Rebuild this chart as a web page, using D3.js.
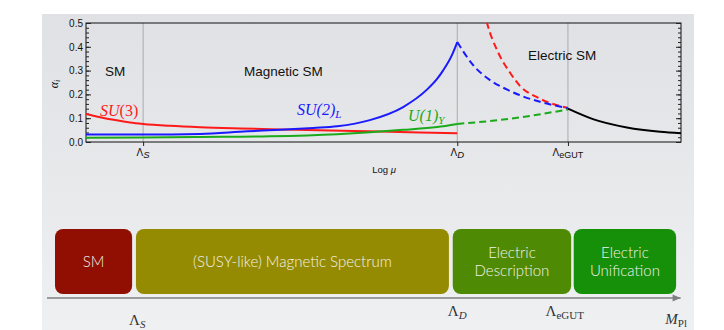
<!DOCTYPE html>
<html>
<head>
<meta charset="utf-8">
<script src="https://cdn.jsdelivr.net/npm/d3@7"></script>
<style>
  body { margin: 0; background: #fff; }
  svg { display: block; }
</style>
</head>
<body>
<svg id="chart" width="724" height="330"></svg>
<script>
// Running couplings alpha_i against log(mu), in units of the plotted log-scale (0..100)
const scaleNames = ["ΛS", "ΛD", "ΛeGUT"];
const scalePositions = [9.6, 62.4, 81.0];

const su3Solid = [[0,0.118],[2.4,0.104],[4.9,0.092],[7.4,0.082],[9.6,0.076],[14.1,0.068],[19.2,0.062],[25.9,0.057],[32.6,0.053],[41.0,0.048],[49.4,0.044],[56.1,0.040],[62.4,0.037]];
const su2Solid = [[0,0.032],[9.6,0.031],[19.2,0.034],[27.1,0.045],[32.6,0.051],[38.2,0.059],[42.2,0.066],[47.7,0.092],[53.3,0.147],[57.3,0.22],[59.0,0.265],[60.0,0.30],[61.5,0.365],[62.4,0.42]];
const u1Solid  = [[0,0.018],[9.6,0.019],[19.2,0.021],[30.9,0.024],[42.2,0.033],[47.7,0.041],[53.3,0.051],[59.0,0.063],[62.4,0.076]];

const su3Dashed = [[66.5,0.595],[67.4,0.5],[69.2,0.38],[71.3,0.29],[72.9,0.237],[76.3,0.182],[81.0,0.143]];
const su2Dashed = [[62.4,0.42],[65.0,0.325],[67.9,0.26],[70.8,0.22],[73.4,0.192],[76.3,0.169],[81.0,0.142]];
const u1Dashed  = [[62.4,0.076],[67.9,0.088],[73.4,0.105],[81.0,0.137]];

const unified = [[81.0,0.14],[85.2,0.096],[90.9,0.061],[96.5,0.043],[100,0.037]];

const yTicks = [0, 0.1, 0.2, 0.3, 0.4, 0.5];

// Schematic energy-scale bar below the plot
const phaseNames = [["SM"], ["(SUSY-like) Magnetic Spectrum"], ["Electric", "Description"], ["Electric", "Unification"]];
const phaseStart = [1.25, 13.9, 63.4, 82.3];
const phaseEnd   = [13.3, 62.8, 81.9, 98.3];
const phaseColors = ["#900e02", "#958b02", "#4f8a04", "#168f09"];
const barScaleNames = ["ΛS", "ΛD", "ΛeGUT", "MPl"];
const barScalePositions = [14.1, 64.1, 80.9, 98.3];

const svg = d3.select("#chart");

// slide backdrop
const defs = svg.append("defs");
const grad = defs.append("linearGradient").attr("id", "bg").attr("x1", 0).attr("y1", 0).attr("x2", 0).attr("y2", 1);
grad.append("stop").attr("offset", "0%").attr("stop-color", "#dfe1e4");
grad.append("stop").attr("offset", "100%").attr("stop-color", "#eff0f2");
svg.append("rect").attr("x", 42).attr("y", 14).attr("width", 652).attr("height", 316).attr("fill", "url(#bg)");

const m = { left: 86, right: 681, top: 23, bottom: 142 };
const x = d3.scaleLinear().domain([0, 100]).range([m.left, m.right]);
const y = d3.scaleLinear().domain([0, 0.5]).range([m.bottom, m.top]);

defs.append("clipPath").attr("id", "plotclip")
  .append("rect").attr("x", m.left).attr("y", m.top).attr("width", m.right - m.left).attr("height", m.bottom - m.top);

// vertical scale markers
svg.append("g").selectAll("line").data(scalePositions).join("line")
  .attr("x1", d => x(d)).attr("x2", d => x(d))
  .attr("y1", m.top).attr("y2", m.bottom)
  .attr("stroke", "#a9abae").attr("stroke-width", 1);

// frame
svg.append("rect").attr("x", m.left).attr("y", m.top)
  .attr("width", m.right - m.left).attr("height", m.bottom - m.top)
  .attr("fill", "none").attr("stroke", "#111").attr("stroke-width", 1);

const font = "'Liberation Sans', Arial, Helvetica, sans-serif";

// y axis, ticks pointing inward
const yMinor = d3.range(0, 0.5001, 0.02);
const yAx = svg.append("g").attr("transform", `translate(${m.left},0)`)
  .call(d3.axisLeft(y).tickValues(yTicks).tickSize(-5).tickPadding(3).tickFormat(d3.format(".1f")));
svg.append("g").attr("transform", `translate(${m.left},0)`)
  .call(d3.axisLeft(y).tickValues(yMinor).tickSize(-3).tickFormat(""));
svg.append("g").attr("transform", `translate(${m.right},0)`)
  .call(d3.axisRight(y).tickValues(yTicks).tickSize(-5).tickFormat(""));
svg.append("g").attr("transform", `translate(${m.right},0)`)
  .call(d3.axisRight(y).tickValues(yMinor).tickSize(-3).tickFormat(""));
svg.selectAll(".domain").remove();
yAx.selectAll("text").attr("font-family", font).attr("font-size", 10).attr("fill", "#111");
svg.selectAll(".tick line").attr("stroke", "#222");

// x axis ticks at the named scales
const xAx = svg.append("g").attr("transform", `translate(0,${m.bottom})`)
  .call(d3.axisBottom(x).tickValues(scalePositions).tickSize(4).tickFormat(""));
xAx.select(".domain").remove();
xAx.selectAll(".tick line").attr("stroke", "#222");

const xLab = svg.append("g").attr("font-family", font).attr("font-size", 10).attr("fill", "#111");
scaleNames.forEach((name, i) => {
  const t = xLab.append("text").attr("x", x(scalePositions[i])).attr("y", 156).attr("text-anchor", "middle");
  t.append("tspan").text("Λ");
  const sub = name.slice(1);
  t.append("tspan").attr("dy", 2).attr("font-size", sub.length > 1 ? 9 : 9.5)
    .attr("font-style", sub.length > 1 ? "normal" : "italic").text(sub);
});

svg.append("text").attr("x", 384).attr("y", 173).attr("text-anchor", "middle")
  .attr("font-family", font).attr("font-size", 9.5).attr("fill", "#111")
  .html("Log <tspan font-style='italic'>μ</tspan>");

// y label
const yl = svg.append("text").attr("transform", "translate(58,84) rotate(-90)")
  .attr("text-anchor", "middle").attr("font-family", "'Liberation Serif', 'Times New Roman', serif")
  .attr("font-size", 12).attr("fill", "#111").attr("font-style", "italic");
yl.append("tspan").text("α");
yl.append("tspan").attr("dy", 2).attr("font-size", 8).text("i");

// curves
const line = d3.line().x(d => x(d[0])).y(d => y(d[1])).curve(d3.curveMonotoneX);
const curves = svg.append("g").attr("clip-path", "url(#plotclip)").attr("fill", "none").attr("stroke-width", 2);
const drawCurve = (data, color, dashed) => curves.append("path").datum(data).attr("d", line)
  .attr("stroke", color).attr("stroke-dasharray", dashed ? "7,4" : null);
drawCurve(su3Dashed, "#ff1a1a", true);
drawCurve(su2Dashed, "#1a1aff", true);
drawCurve(u1Dashed, "#1aaa1a", true);
drawCurve(su3Solid, "#ff1a1a", false);
drawCurve(u1Solid, "#1aaa1a", false);
drawCurve(su2Solid, "#1a1aff", false);
drawCurve(unified, "#000", false);

// region labels
const regions = svg.append("g").attr("font-family", font).attr("font-size", 13.5).attr("fill", "#111");
regions.append("text").attr("x", 115).attr("y", 76).attr("text-anchor", "middle").text("SM");
regions.append("text").attr("x", 244).attr("y", 76).text("Magnetic SM");
regions.append("text").attr("x", 528).attr("y", 60).text("Electric SM");

// gauge group labels
const serif = "'Liberation Serif', 'Times New Roman', serif";
const g1 = svg.append("text").attr("x", 100).attr("y", 116).attr("font-family", serif).attr("font-size", 16).attr("fill", "#ff1a1a");
g1.append("tspan").attr("font-style", "italic").text("SU");
g1.append("tspan").text("(3)");
const g2 = svg.append("text").attr("x", 297).attr("y", 115).attr("font-family", serif).attr("font-size", 16).attr("fill", "#1a1aff").attr("font-style", "italic");
g2.append("tspan").text("SU(2)");
g2.append("tspan").attr("dy", 3).attr("font-size", 11).text("L");
const g3 = svg.append("text").attr("x", 408).attr("y", 121).attr("font-family", serif).attr("font-size", 16).attr("fill", "#1aaa1a").attr("font-style", "italic");
g3.append("tspan").text("U(1)");
g3.append("tspan").attr("dy", 3).attr("font-size", 11).text("Y");

// schematic bar
const b = d3.scaleLinear().domain([0, 100]).range([47, 687]);
const boxTop = 229, boxBottom = 294;
const boxes = svg.append("g");
phaseNames.forEach((lines, i) => {
  boxes.append("rect").attr("x", b(phaseStart[i])).attr("y", boxTop)
    .attr("width", b(phaseEnd[i]) - b(phaseStart[i])).attr("height", boxBottom - boxTop)
    .attr("rx", 8).attr("fill", phaseColors[i]);
  const cx = (b(phaseStart[i]) + b(phaseEnd[i])) / 2;
  const t = boxes.append("text").attr("text-anchor", "middle").attr("fill", "#f4f2e8")
    .attr("font-family", "Lato, 'Open Sans', sans-serif").attr("font-weight", 300).attr("font-size", 15);
  if (lines.length === 1) {
    t.append("tspan").attr("x", cx).attr("y", 267).text(lines[0]);
  } else {
    t.append("tspan").attr("x", cx).attr("y", 258).text(lines[0]);
    t.append("tspan").attr("x", cx).attr("y", 276).text(lines[1]);
  }
});

// arrow axis
svg.append("line").attr("x1", b(0)).attr("x2", b(99)).attr("y1", 298).attr("y2", 298)
  .attr("stroke", "#7d7f82").attr("stroke-width", 1.5);
svg.append("path").attr("d", `M${b(99) - 8},294.5 L${b(99)},298 L${b(99) - 8},301.5 Z`).attr("fill", "#7d7f82");

const barLab = svg.append("g").attr("font-family", serif).attr("font-size", 15).attr("fill", "#333");
const labY = [325, 316, 316, 324];
barScaleNames.forEach((name, i) => {
  const t = barLab.append("text").attr("x", b(barScalePositions[i])).attr("y", labY[i]).attr("text-anchor", "middle");
  if (name === "MPl") {
    t.append("tspan").attr("font-style", "italic").text("M");
    t.append("tspan").attr("dy", 3).attr("font-size", 11).text("Pl");
  } else {
    t.append("tspan").text("Λ");
    const sub = name.slice(1);
    t.append("tspan").attr("dy", 3).attr("font-size", 11)
      .attr("font-style", sub.length > 1 ? "normal" : "italic").text(sub);
  }
});
</script>
</body>
</html>
